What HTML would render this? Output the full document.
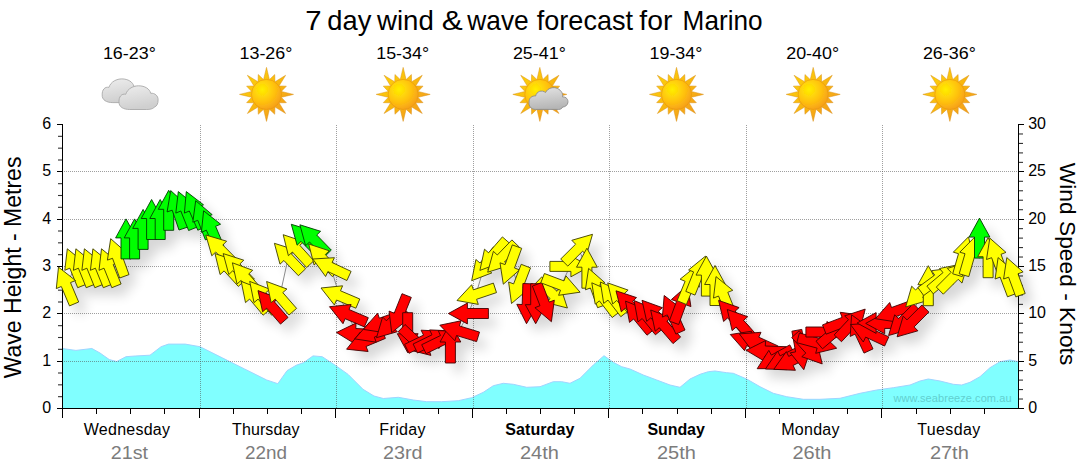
<!DOCTYPE html><html><head><meta charset="utf-8"><title>7 day wind &amp; wave forecast for Marino</title>
<style>html,body{margin:0;padding:0;background:#fff;}svg{display:block}text{font-family:"Liberation Sans",sans-serif;}</style></head><body>
<svg width="1080" height="475" viewBox="0 0 1080 475">
<defs>
<filter id="sh" x="-5%" y="-30%" width="110%" height="170%"><feGaussianBlur in="SourceAlpha" stdDeviation="6"/><feOffset dx="8" dy="9" result="b"/><feComponentTransfer><feFuncA type="linear" slope="0.16"/></feComponentTransfer></filter>
<radialGradient id="sunG" cx="0.36" cy="0.34" r="0.75"><stop offset="0" stop-color="#ffee00"/><stop offset="0.55" stop-color="#ffc20e"/><stop offset="1" stop-color="#f59a1a"/></radialGradient>
<linearGradient id="rayG" x1="0" y1="0" x2="1" y2="1"><stop offset="0" stop-color="#ffdc00"/><stop offset="1" stop-color="#f2921c"/></linearGradient>
<linearGradient id="clG" x1="0" y1="0" x2="0.3" y2="1"><stop offset="0" stop-color="#eeeeee"/><stop offset="1" stop-color="#cfcfcf"/></linearGradient>
<linearGradient id="clD" x1="0" y1="0" x2="0.2" y2="1"><stop offset="0" stop-color="#e4e4e4"/><stop offset="1" stop-color="#b6b6b6"/></linearGradient>
<filter id="soft" x="-20%" y="-20%" width="140%" height="140%"><feGaussianBlur stdDeviation="0.35"/></filter>
</defs>
<rect width="1080" height="475" fill="#fff"/>
<text x="305.3" y="29.7" font-size="27.6" textLength="16.3" lengthAdjust="spacingAndGlyphs" fill="#000">7</text>
<text x="327.3" y="29.7" font-size="27.6" textLength="44.0" lengthAdjust="spacingAndGlyphs" fill="#000">day</text>
<text x="377.0" y="29.7" font-size="27.6" textLength="56.8" lengthAdjust="spacingAndGlyphs" fill="#000">wind</text>
<text x="441.8" y="29.7" font-size="27.6" textLength="21.0" lengthAdjust="spacingAndGlyphs" fill="#000">&amp;</text>
<text x="467.3" y="29.7" font-size="27.6" textLength="61.4" lengthAdjust="spacingAndGlyphs" fill="#000">wave</text>
<text x="536.8" y="29.7" font-size="27.6" textLength="96.2" lengthAdjust="spacingAndGlyphs" fill="#000">forecast</text>
<text x="639.3" y="29.7" font-size="27.6" textLength="33.0" lengthAdjust="spacingAndGlyphs" fill="#000">for</text>
<text x="682.6" y="29.7" font-size="27.6" textLength="80.0" lengthAdjust="spacingAndGlyphs" fill="#000">Marino</text>
<text x="102.9" y="59" font-size="16.3" textLength="52.9" lengthAdjust="spacingAndGlyphs" fill="#000">16-23°</text>
<text x="239.5" y="59" font-size="16.3" textLength="52.9" lengthAdjust="spacingAndGlyphs" fill="#000">13-26°</text>
<text x="376.2" y="59" font-size="16.3" textLength="52.9" lengthAdjust="spacingAndGlyphs" fill="#000">15-34°</text>
<text x="512.9" y="59" font-size="16.3" textLength="52.9" lengthAdjust="spacingAndGlyphs" fill="#000">25-41°</text>
<text x="649.5" y="59" font-size="16.3" textLength="52.9" lengthAdjust="spacingAndGlyphs" fill="#000">19-34°</text>
<text x="786.2" y="59" font-size="16.3" textLength="52.9" lengthAdjust="spacingAndGlyphs" fill="#000">20-40°</text>
<text x="922.9" y="59" font-size="16.3" textLength="52.9" lengthAdjust="spacingAndGlyphs" fill="#000">26-36°</text>
<g transform="translate(101.9,78.9) scale(1,1)" filter="url(#soft)"><path d="M11,23.7 C4.5,23.7 0,21 0.3,16 C0,11 3,7.5 7,8.5 C9,2.5 15,0 20,0 C26,0 31,3 32,7.5 C36,7 39.5,10 39.4,14 C39.5,18 38,20.5 35.5,21.5 C34,23.2 31,23.7 28,23.7 Z" fill="url(#clG)" stroke="#a9a9a9" stroke-width="0.9"/></g>
<g transform="translate(118.7,85.8) scale(1,1)" filter="url(#soft)"><path d="M11,23.7 C4.5,23.7 0,21 0.3,16 C0,11 3,7.5 7,8.5 C9,2.5 15,0 20,0 C26,0 31,3 32,7.5 C36,7 39.5,10 39.4,14 C39.5,18 38,20.5 35.5,21.5 C34,23.2 31,23.7 28,23.7 Z" fill="url(#clG)" stroke="#a9a9a9" stroke-width="0.9"/></g>
<g filter="url(#soft)"><path d="M263.61,79.38 L266.50,67.40 L269.39,79.38 L269.58,79.41 L274.73,74.54 L274.92,81.62 L275.08,81.73 L285.59,75.31 L279.17,85.82 L279.28,85.98 L286.36,86.17 L281.49,91.32 L281.52,91.51 L293.50,94.40 L281.52,97.29 L281.49,97.48 L286.36,102.63 L279.28,102.82 L279.17,102.98 L285.59,113.49 L275.08,107.07 L274.92,107.18 L274.73,114.26 L269.58,109.39 L269.39,109.42 L266.50,121.40 L263.61,109.42 L263.42,109.39 L258.27,114.26 L258.08,107.18 L257.92,107.07 L247.41,113.49 L253.83,102.98 L253.72,102.82 L246.64,102.63 L251.51,97.48 L251.48,97.29 L239.50,94.40 L251.48,91.51 L251.51,91.32 L246.64,86.17 L253.72,85.98 L253.83,85.82 L247.41,75.31 L257.92,81.73 L258.08,81.62 L258.27,74.54 L263.42,79.41Z" fill="url(#rayG)" stroke="#d9901a" stroke-width="0.5" stroke-linejoin="miter"/><circle cx="266.5" cy="94.4" r="15" fill="url(#sunG)" stroke="#e8960f" stroke-width="0.6"/></g>
<g filter="url(#soft)"><path d="M400.28,79.38 L403.17,67.40 L406.06,79.38 L406.25,79.41 L411.40,74.54 L411.59,81.62 L411.75,81.73 L422.26,75.31 L415.84,85.82 L415.95,85.98 L423.03,86.17 L418.16,91.32 L418.19,91.51 L430.17,94.40 L418.19,97.29 L418.16,97.48 L423.03,102.63 L415.95,102.82 L415.84,102.98 L422.26,113.49 L411.75,107.07 L411.59,107.18 L411.40,114.26 L406.25,109.39 L406.06,109.42 L403.17,121.40 L400.28,109.42 L400.09,109.39 L394.94,114.26 L394.75,107.18 L394.59,107.07 L384.08,113.49 L390.50,102.98 L390.39,102.82 L383.31,102.63 L388.18,97.48 L388.15,97.29 L376.17,94.40 L388.15,91.51 L388.18,91.32 L383.31,86.17 L390.39,85.98 L390.50,85.82 L384.08,75.31 L394.59,81.73 L394.75,81.62 L394.94,74.54 L400.09,79.41Z" fill="url(#rayG)" stroke="#d9901a" stroke-width="0.5" stroke-linejoin="miter"/><circle cx="403.16999999999996" cy="94.4" r="15" fill="url(#sunG)" stroke="#e8960f" stroke-width="0.6"/></g>
<g filter="url(#soft)"><path d="M536.95,79.38 L539.84,67.40 L542.73,79.38 L542.92,79.41 L548.07,74.54 L548.26,81.62 L548.42,81.73 L558.93,75.31 L552.51,85.82 L552.62,85.98 L559.70,86.17 L554.83,91.32 L554.86,91.51 L566.84,94.40 L554.86,97.29 L554.83,97.48 L559.70,102.63 L552.62,102.82 L552.51,102.98 L558.93,113.49 L548.42,107.07 L548.26,107.18 L548.07,114.26 L542.92,109.39 L542.73,109.42 L539.84,121.40 L536.95,109.42 L536.76,109.39 L531.61,114.26 L531.42,107.18 L531.26,107.07 L520.75,113.49 L527.17,102.98 L527.06,102.82 L519.98,102.63 L524.85,97.48 L524.82,97.29 L512.84,94.40 L524.82,91.51 L524.85,91.32 L519.98,86.17 L527.06,85.98 L527.17,85.82 L520.75,75.31 L531.26,81.73 L531.42,81.62 L531.61,74.54 L536.76,79.41Z" fill="url(#rayG)" stroke="#d9901a" stroke-width="0.5" stroke-linejoin="miter"/><circle cx="539.8399999999999" cy="94.4" r="15" fill="url(#sunG)" stroke="#e8960f" stroke-width="0.6"/></g>
<g transform="translate(528.6,86.5) scale(1,1)" filter="url(#soft)"><path d="M7,22.9 C2,22.9 0,19 0.5,16 C0,11.5 3.5,9 7,9.5 C8,5 13,3 17,6 C19,1.5 25,0 29,2 C33,4 34.5,7.5 34,10.5 C37.5,10 40,13 39.2,16.5 C38.5,19 36.5,20.5 34,20.5 C33.5,22 32,22.9 30,22.9 Z" fill="url(#clD)" stroke="#8c8c8c" stroke-width="0.9"/></g>
<g filter="url(#soft)"><path d="M673.62,79.38 L676.51,67.40 L679.40,79.38 L679.59,79.41 L684.74,74.54 L684.93,81.62 L685.09,81.73 L695.60,75.31 L689.18,85.82 L689.29,85.98 L696.37,86.17 L691.50,91.32 L691.53,91.51 L703.51,94.40 L691.53,97.29 L691.50,97.48 L696.37,102.63 L689.29,102.82 L689.18,102.98 L695.60,113.49 L685.09,107.07 L684.93,107.18 L684.74,114.26 L679.59,109.39 L679.40,109.42 L676.51,121.40 L673.62,109.42 L673.43,109.39 L668.28,114.26 L668.09,107.18 L667.93,107.07 L657.42,113.49 L663.84,102.98 L663.73,102.82 L656.65,102.63 L661.52,97.48 L661.49,97.29 L649.51,94.40 L661.49,91.51 L661.52,91.32 L656.65,86.17 L663.73,85.98 L663.84,85.82 L657.42,75.31 L667.93,81.73 L668.09,81.62 L668.28,74.54 L673.43,79.41Z" fill="url(#rayG)" stroke="#d9901a" stroke-width="0.5" stroke-linejoin="miter"/><circle cx="676.51" cy="94.4" r="15" fill="url(#sunG)" stroke="#e8960f" stroke-width="0.6"/></g>
<g filter="url(#soft)"><path d="M810.29,79.38 L813.18,67.40 L816.07,79.38 L816.26,79.41 L821.41,74.54 L821.60,81.62 L821.76,81.73 L832.27,75.31 L825.85,85.82 L825.96,85.98 L833.04,86.17 L828.17,91.32 L828.20,91.51 L840.18,94.40 L828.20,97.29 L828.17,97.48 L833.04,102.63 L825.96,102.82 L825.85,102.98 L832.27,113.49 L821.76,107.07 L821.60,107.18 L821.41,114.26 L816.26,109.39 L816.07,109.42 L813.18,121.40 L810.29,109.42 L810.10,109.39 L804.95,114.26 L804.76,107.18 L804.60,107.07 L794.09,113.49 L800.51,102.98 L800.40,102.82 L793.32,102.63 L798.19,97.48 L798.16,97.29 L786.18,94.40 L798.16,91.51 L798.19,91.32 L793.32,86.17 L800.40,85.98 L800.51,85.82 L794.09,75.31 L804.60,81.73 L804.76,81.62 L804.95,74.54 L810.10,79.41Z" fill="url(#rayG)" stroke="#d9901a" stroke-width="0.5" stroke-linejoin="miter"/><circle cx="813.18" cy="94.4" r="15" fill="url(#sunG)" stroke="#e8960f" stroke-width="0.6"/></g>
<g filter="url(#soft)"><path d="M946.96,79.38 L949.85,67.40 L952.74,79.38 L952.93,79.41 L958.08,74.54 L958.27,81.62 L958.43,81.73 L968.94,75.31 L962.52,85.82 L962.63,85.98 L969.71,86.17 L964.84,91.32 L964.87,91.51 L976.85,94.40 L964.87,97.29 L964.84,97.48 L969.71,102.63 L962.63,102.82 L962.52,102.98 L968.94,113.49 L958.43,107.07 L958.27,107.18 L958.08,114.26 L952.93,109.39 L952.74,109.42 L949.85,121.40 L946.96,109.42 L946.77,109.39 L941.62,114.26 L941.43,107.18 L941.27,107.07 L930.76,113.49 L937.18,102.98 L937.07,102.82 L929.99,102.63 L934.86,97.48 L934.83,97.29 L922.85,94.40 L934.83,91.51 L934.86,91.32 L929.99,86.17 L937.07,85.98 L937.18,85.82 L930.76,75.31 L941.27,81.73 L941.43,81.62 L941.62,74.54 L946.77,79.41Z" fill="url(#rayG)" stroke="#d9901a" stroke-width="0.5" stroke-linejoin="miter"/><circle cx="949.8499999999999" cy="94.4" r="15" fill="url(#sunG)" stroke="#e8960f" stroke-width="0.6"/></g>
<path d="M62.2,348.5 L75.9,350.4 L91.9,348.5 L100,353 L109.3,359.6 L116.7,361.5 L126,356.7 L135.2,356 L150,355.2 L161.1,346.7 L168.5,344.1 L185.2,344.1 L200,346.7 L222.2,357.8 L244.4,368.9 L266.7,380 L277.8,383.7 L287,370.7 L296.3,365.2 L303.7,362.6 L313,355.9 L322.2,356.7 L335.2,365.2 L348.1,374.4 L363,389.3 L374,396 L383.3,398.5 L398.3,397.3 L413.3,400 L426.7,401.7 L441.7,401.7 L458.3,400.7 L471.7,397.7 L483.3,392.3 L493.3,385.7 L503.3,383.3 L513.3,384.3 L526.7,387.3 L540,386.7 L553.3,381.7 L561.7,381.7 L570,383.3 L580,378.3 L593.3,365 L604,355.7 L613.3,362.3 L621.7,366.7 L630,369 L643.3,375 L656.7,380 L670,385 L680,387.3 L690,379 L700,374.3 L708.3,371.7 L715,371 L726.7,372.7 L733.3,373.3 L746.7,379 L760,386.7 L773.3,393.3 L786.7,396.7 L803.3,399.3 L820,399.3 L840,398.3 L860,393.3 L876.7,390 L893.3,387.7 L910,385 L920,381 L928.3,379 L940,381 L953.3,384.3 L961.7,385 L970,382.3 L980,376.7 L990,367.7 L1000,361.7 L1010,360 L1018.5,361.7 L1018.5,408.5 L62.5,408.5 Z" fill="#80ffff"/>
<path d="M62.2,348.5 L75.9,350.4 L91.9,348.5 L100,353 L109.3,359.6 L116.7,361.5 L126,356.7 L135.2,356 L150,355.2 L161.1,346.7 L168.5,344.1 L185.2,344.1 L200,346.7 L222.2,357.8 L244.4,368.9 L266.7,380 L277.8,383.7 L287,370.7 L296.3,365.2 L303.7,362.6 L313,355.9 L322.2,356.7 L335.2,365.2 L348.1,374.4 L363,389.3 L374,396 L383.3,398.5 L398.3,397.3 L413.3,400 L426.7,401.7 L441.7,401.7 L458.3,400.7 L471.7,397.7 L483.3,392.3 L493.3,385.7 L503.3,383.3 L513.3,384.3 L526.7,387.3 L540,386.7 L553.3,381.7 L561.7,381.7 L570,383.3 L580,378.3 L593.3,365 L604,355.7 L613.3,362.3 L621.7,366.7 L630,369 L643.3,375 L656.7,380 L670,385 L680,387.3 L690,379 L700,374.3 L708.3,371.7 L715,371 L726.7,372.7 L733.3,373.3 L746.7,379 L760,386.7 L773.3,393.3 L786.7,396.7 L803.3,399.3 L820,399.3 L840,398.3 L860,393.3 L876.7,390 L893.3,387.7 L910,385 L920,381 L928.3,379 L940,381 L953.3,384.3 L961.7,385 L970,382.3 L980,376.7 L990,367.7 L1000,361.7 L1010,360 L1018.5,361.7" fill="none" stroke="#9fd4ff" stroke-width="1"/>
<text x="893.5" y="401.5" font-size="11" textLength="118" lengthAdjust="spacing" fill="#62d0d0">www.seabreeze.com.au</text>
<g stroke="#505050" stroke-opacity="0.55" stroke-width="1" stroke-dasharray="1,1" shape-rendering="crispEdges"><line x1="63.5" y1="361.5" x2="1018.5" y2="361.5"/><line x1="63.5" y1="313.5" x2="1018.5" y2="313.5"/><line x1="63.5" y1="266.5" x2="1018.5" y2="266.5"/><line x1="63.5" y1="219.5" x2="1018.5" y2="219.5"/><line x1="63.5" y1="171.5" x2="1018.5" y2="171.5"/><line x1="200.5" y1="124.5" x2="200.5" y2="408.5"/><line x1="336.5" y1="124.5" x2="336.5" y2="408.5"/><line x1="473.5" y1="124.5" x2="473.5" y2="408.5"/><line x1="609.5" y1="124.5" x2="609.5" y2="408.5"/><line x1="746.5" y1="124.5" x2="746.5" y2="408.5"/><line x1="882.5" y1="124.5" x2="882.5" y2="408.5"/></g>
<g stroke="#000" stroke-width="1" shape-rendering="crispEdges"><line x1="62.5" y1="124" x2="62.5" y2="418"/><line x1="62" y1="408.5" x2="1019" y2="408.5"/><line x1="1018.5" y1="124" x2="1018.5" y2="409"/><line x1="57" y1="408.5" x2="62" y2="408.5"/><line x1="57" y1="361.5" x2="62" y2="361.5"/><line x1="57" y1="313.5" x2="62" y2="313.5"/><line x1="57" y1="266.5" x2="62" y2="266.5"/><line x1="57" y1="219.5" x2="62" y2="219.5"/><line x1="57" y1="171.5" x2="62" y2="171.5"/><line x1="57" y1="124.5" x2="62" y2="124.5"/><line x1="1019" y1="408.5" x2="1024" y2="408.5"/><line x1="1019" y1="361.5" x2="1024" y2="361.5"/><line x1="1019" y1="313.5" x2="1024" y2="313.5"/><line x1="1019" y1="266.5" x2="1024" y2="266.5"/><line x1="1019" y1="219.5" x2="1024" y2="219.5"/><line x1="1019" y1="171.5" x2="1024" y2="171.5"/><line x1="1019" y1="124.5" x2="1024" y2="124.5"/><line x1="96.5" y1="409" x2="96.5" y2="413.5"/><line x1="130.5" y1="409" x2="130.5" y2="413.5"/><line x1="164.5" y1="409" x2="164.5" y2="413.5"/><line x1="199.5" y1="409" x2="199.5" y2="418"/><line x1="233.5" y1="409" x2="233.5" y2="413.5"/><line x1="267.5" y1="409" x2="267.5" y2="413.5"/><line x1="301.5" y1="409" x2="301.5" y2="413.5"/><line x1="335.5" y1="409" x2="335.5" y2="418"/><line x1="369.5" y1="409" x2="369.5" y2="413.5"/><line x1="403.5" y1="409" x2="403.5" y2="413.5"/><line x1="438.5" y1="409" x2="438.5" y2="413.5"/><line x1="472.5" y1="409" x2="472.5" y2="418"/><line x1="506.5" y1="409" x2="506.5" y2="413.5"/><line x1="540.5" y1="409" x2="540.5" y2="413.5"/><line x1="574.5" y1="409" x2="574.5" y2="413.5"/><line x1="608.5" y1="409" x2="608.5" y2="418"/><line x1="642.5" y1="409" x2="642.5" y2="413.5"/><line x1="677.5" y1="409" x2="677.5" y2="413.5"/><line x1="711.5" y1="409" x2="711.5" y2="413.5"/><line x1="745.5" y1="409" x2="745.5" y2="418"/><line x1="779.5" y1="409" x2="779.5" y2="413.5"/><line x1="813.5" y1="409" x2="813.5" y2="413.5"/><line x1="847.5" y1="409" x2="847.5" y2="413.5"/><line x1="881.5" y1="409" x2="881.5" y2="418"/><line x1="916.5" y1="409" x2="916.5" y2="413.5"/><line x1="950.5" y1="409" x2="950.5" y2="413.5"/><line x1="984.5" y1="409" x2="984.5" y2="413.5"/></g>
<g stroke="#000" stroke-width="1.1" stroke-opacity="0.8"><line x1="58" y1="396.67" x2="62" y2="396.67"/><line x1="58" y1="384.83" x2="62" y2="384.83"/><line x1="58" y1="373.00" x2="62" y2="373.00"/><line x1="58" y1="349.33" x2="62" y2="349.33"/><line x1="58" y1="337.50" x2="62" y2="337.50"/><line x1="58" y1="325.67" x2="62" y2="325.67"/><line x1="58" y1="302.00" x2="62" y2="302.00"/><line x1="58" y1="290.17" x2="62" y2="290.17"/><line x1="58" y1="278.33" x2="62" y2="278.33"/><line x1="58" y1="254.67" x2="62" y2="254.67"/><line x1="58" y1="242.83" x2="62" y2="242.83"/><line x1="58" y1="231.00" x2="62" y2="231.00"/><line x1="58" y1="207.33" x2="62" y2="207.33"/><line x1="58" y1="195.50" x2="62" y2="195.50"/><line x1="58" y1="183.67" x2="62" y2="183.67"/><line x1="58" y1="160.00" x2="62" y2="160.00"/><line x1="58" y1="148.17" x2="62" y2="148.17"/><line x1="58" y1="136.33" x2="62" y2="136.33"/><line x1="1019" y1="399.03" x2="1023" y2="399.03"/><line x1="1019" y1="389.57" x2="1023" y2="389.57"/><line x1="1019" y1="380.10" x2="1023" y2="380.10"/><line x1="1019" y1="370.63" x2="1023" y2="370.63"/><line x1="1019" y1="351.70" x2="1023" y2="351.70"/><line x1="1019" y1="342.23" x2="1023" y2="342.23"/><line x1="1019" y1="332.77" x2="1023" y2="332.77"/><line x1="1019" y1="323.30" x2="1023" y2="323.30"/><line x1="1019" y1="304.37" x2="1023" y2="304.37"/><line x1="1019" y1="294.90" x2="1023" y2="294.90"/><line x1="1019" y1="285.43" x2="1023" y2="285.43"/><line x1="1019" y1="275.97" x2="1023" y2="275.97"/><line x1="1019" y1="257.03" x2="1023" y2="257.03"/><line x1="1019" y1="247.57" x2="1023" y2="247.57"/><line x1="1019" y1="238.10" x2="1023" y2="238.10"/><line x1="1019" y1="228.63" x2="1023" y2="228.63"/><line x1="1019" y1="209.70" x2="1023" y2="209.70"/><line x1="1019" y1="200.23" x2="1023" y2="200.23"/><line x1="1019" y1="190.77" x2="1023" y2="190.77"/><line x1="1019" y1="181.30" x2="1023" y2="181.30"/><line x1="1019" y1="162.37" x2="1023" y2="162.37"/><line x1="1019" y1="152.90" x2="1023" y2="152.90"/><line x1="1019" y1="143.43" x2="1023" y2="143.43"/><line x1="1019" y1="133.97" x2="1023" y2="133.97"/></g>
<g filter="url(#sh)" fill="#000"><polygon points="67.3,248.8 84.1,262.5 79.1,264.5 87.0,284.0 77.7,287.7 69.8,268.2 64.8,270.3"/><polygon points="75.9,248.8 92.6,262.5 87.6,264.5 95.5,284.0 86.2,287.7 78.4,268.2 73.4,270.3"/><polygon points="84.4,248.8 101.2,262.5 96.2,264.5 104.0,284.0 94.8,287.7 86.9,268.2 81.9,270.3"/><polygon points="92.9,248.8 109.7,262.5 104.7,264.5 112.6,284.0 103.3,287.7 95.4,268.2 90.4,270.3"/><polygon points="101.5,248.8 118.2,262.5 113.2,264.5 121.1,284.0 111.8,287.7 104.0,268.2 99.0,270.3"/><polygon points="58.5,267.1 75.5,280.5 70.5,282.6 78.7,302.0 69.5,305.9 61.3,286.5 56.3,288.6"/><polygon points="110.7,238.7 126.9,253.0 121.9,254.9 129.0,274.6 119.7,278.0 112.5,258.3 107.4,260.1"/><polygon points="126.0,218.9 136.4,237.9 131.0,237.9 131.0,258.9 121.0,258.9 121.0,237.9 115.6,237.9"/><polygon points="134.6,218.9 145.0,237.9 139.6,237.9 139.6,258.9 129.6,258.9 129.6,237.9 124.2,237.9"/><polygon points="143.1,209.4 153.5,228.4 148.1,228.4 148.1,249.4 138.1,249.4 138.1,228.4 132.7,228.4"/><polygon points="151.6,199.5 162.0,218.5 156.6,218.5 156.6,239.5 146.6,239.5 146.6,218.5 141.2,218.5"/><polygon points="160.2,199.5 170.6,218.5 165.2,218.5 165.2,239.5 155.2,239.5 155.2,218.5 149.8,218.5"/><polygon points="168.7,190.3 179.1,209.3 173.7,209.3 173.7,230.3 163.7,230.3 163.7,209.3 158.3,209.3"/><polygon points="170.7,190.6 186.8,205.2 181.7,206.9 188.5,226.8 179.0,230.0 172.2,210.2 167.1,211.9"/><polygon points="178.3,191.6 195.1,205.3 190.1,207.3 197.9,226.8 188.6,230.5 180.8,211.0 175.8,213.1"/><polygon points="186.3,191.6 203.5,204.8 198.5,207.0 206.9,226.2 197.8,230.2 189.3,211.0 184.4,213.1"/><polygon points="195.7,200.7 212.2,214.7 207.2,216.7 214.7,236.3 205.4,239.9 197.8,220.3 192.8,222.2"/><polygon points="203.6,210.8 220.6,224.2 215.6,226.3 223.8,245.7 214.6,249.6 206.4,230.2 201.4,232.3"/><polygon points="205.8,235.0 226.6,241.2 222.8,245.0 237.6,259.9 230.5,266.9 215.7,252.0 211.8,255.8"/><polygon points="215.0,253.6 235.5,260.5 231.5,264.2 245.7,279.7 238.3,286.4 224.1,270.9 220.1,274.6"/><polygon points="223.2,253.6 243.8,260.2 239.9,263.9 254.4,279.1 247.2,286.0 232.7,270.8 228.8,274.5"/><polygon points="232.4,262.8 252.7,270.3 248.7,273.9 262.4,289.7 254.9,296.3 241.1,280.4 237.0,284.0"/><polygon points="241.2,281.4 261.4,289.2 257.3,292.7 270.8,308.8 263.1,315.2 249.6,299.1 245.5,302.6"/><polygon points="249.7,281.4 269.9,289.2 265.8,292.7 279.3,308.8 271.6,315.2 258.1,299.1 254.0,302.6"/><polygon points="258.0,290.6 278.3,298.1 274.3,301.7 288.0,317.5 280.5,324.1 266.7,308.2 262.6,311.8"/><polygon points="266.6,281.5 286.9,289.0 282.8,292.6 296.6,308.4 289.0,315.0 275.2,299.1 271.2,302.7"/><polygon points="274.4,243.3 295.1,249.9 291.1,253.6 305.6,268.8 298.4,275.7 283.9,260.5 280.0,264.2"/><polygon points="283.2,234.7 303.7,241.6 299.8,245.3 313.9,260.8 306.6,267.5 292.4,252.0 288.4,255.7"/><polygon points="291.3,224.3 312.0,230.6 308.2,234.4 322.8,249.4 315.7,256.4 301.0,241.4 297.1,245.2"/><polygon points="299.9,224.8 320.6,231.3 316.7,235.0 331.3,250.1 324.1,257.1 309.5,242.0 305.6,245.7"/><polygon points="308.7,244.0 329.3,250.8 325.3,254.5 339.6,269.8 332.3,276.6 318.0,261.3 314.1,265.0"/><polygon points="312.8,259.0 334.4,257.7 332.1,262.5 351.1,271.4 346.9,280.5 327.9,271.6 325.6,276.5"/><polygon points="321.0,288.0 342.6,285.8 340.5,290.8 359.8,299.0 355.9,308.2 336.5,300.0 334.4,305.0"/><polygon points="329.5,306.7 351.1,304.5 349.0,309.5 368.3,317.7 364.4,326.9 345.1,318.7 343.0,323.7"/><polygon points="336.5,332.5 356.0,323.1 355.8,328.5 376.7,329.6 376.2,339.5 355.2,338.4 354.9,343.8"/><polygon points="346.6,349.2 360.1,332.3 362.2,337.3 381.6,329.2 385.4,338.4 366.0,346.5 368.1,351.5"/><polygon points="354.8,338.9 369.1,322.7 370.9,327.7 390.6,320.6 394.1,330.0 374.3,337.1 376.2,342.2"/><polygon points="363.3,329.4 377.6,313.2 379.4,318.2 399.2,311.1 402.6,320.5 382.9,327.6 384.7,332.7"/><polygon points="376.5,337.7 382.6,317.0 386.4,320.8 401.2,305.9 408.3,313.0 393.5,327.8 397.3,331.7"/><polygon points="391.7,332.6 389.1,311.1 394.2,313.2 402.0,293.7 411.3,297.4 403.4,316.9 408.4,318.9"/><polygon points="407.7,352.7 397.3,333.7 402.7,333.7 402.7,312.7 412.7,312.7 412.7,333.7 418.1,333.7"/><polygon points="430.9,355.4 409.9,350.1 413.6,346.1 398.2,331.8 405.0,324.5 420.4,338.8 424.1,334.9"/><polygon points="442.7,331.2 430.2,348.9 427.9,344.1 409.0,353.3 404.6,344.3 423.5,335.1 421.1,330.2"/><polygon points="451.3,330.9 438.8,348.6 436.4,343.8 417.5,353.0 413.1,344.0 432.0,334.8 429.6,329.9"/><polygon points="459.8,331.6 447.3,349.3 444.9,344.5 426.1,353.7 421.7,344.7 440.5,335.5 438.2,330.6"/><polygon points="450.4,323.0 460.8,342.0 455.4,342.0 455.4,363.0 445.4,363.0 445.4,342.0 440.0,342.0"/><polygon points="439.8,325.2 461.0,320.8 459.4,325.9 479.5,332.1 476.6,341.6 456.5,335.5 454.9,340.7"/><polygon points="448.4,313.5 467.4,303.1 467.4,308.5 488.4,308.5 488.4,318.5 467.4,318.5 467.4,323.9"/><polygon points="457.0,300.5 471.7,284.7 473.4,289.8 493.4,283.1 496.5,292.6 476.6,299.3 478.3,304.4"/><polygon points="471.7,280.7 475.9,259.5 480.0,263.0 493.5,246.9 501.2,253.3 487.7,269.4 491.8,272.9"/><polygon points="479.9,270.4 484.5,249.2 488.6,252.8 502.4,236.9 509.9,243.5 496.2,259.3 500.2,262.9"/><polygon points="487.7,272.2 493.4,251.3 497.3,255.0 511.9,239.9 519.1,246.9 504.5,262.0 508.4,265.7"/><polygon points="503.3,284.2 500.0,262.8 505.1,264.6 512.3,244.9 521.7,248.3 514.5,268.0 519.6,269.9"/><polygon points="511.5,303.5 508.6,282.0 513.6,283.9 521.2,264.3 530.5,267.9 523.0,287.5 528.0,289.5"/><polygon points="567.4,308.0 546.4,302.6 550.1,298.6 534.8,284.2 541.7,276.9 557.0,291.3 560.7,287.4"/><polygon points="526.5,323.7 516.8,304.3 522.2,304.5 522.9,283.5 532.9,283.9 532.2,304.9 537.5,305.1"/><polygon points="535.7,323.7 525.3,304.7 530.7,304.7 530.7,283.7 540.7,283.7 540.7,304.7 546.1,304.7"/><polygon points="551.4,321.7 534.9,307.7 540.0,305.7 532.4,286.1 541.8,282.5 549.3,302.1 554.3,300.2"/><polygon points="580.1,292.2 558.6,295.3 560.5,290.2 540.8,282.8 544.4,273.5 564.0,280.9 565.9,275.8"/><polygon points="589.9,266.4 570.9,276.8 570.9,271.4 549.9,271.4 549.9,261.4 570.9,261.4 570.9,256.0"/><polygon points="592.5,234.3 586.5,255.0 582.6,251.2 567.8,266.1 560.7,259.0 575.6,244.2 571.8,240.3"/><polygon points="586.9,248.2 597.3,267.2 591.9,267.2 591.9,288.2 581.9,288.2 581.9,267.2 576.5,267.2"/><polygon points="588.6,268.4 604.9,282.7 599.8,284.6 607.0,304.3 597.6,307.7 590.4,288.0 585.4,289.8"/><polygon points="591.8,282.8 611.6,291.5 607.4,294.8 620.2,311.4 612.2,317.5 599.4,300.9 595.2,304.2"/><polygon points="600.3,282.0 620.2,290.7 615.9,294.0 628.7,310.6 620.8,316.7 608.0,300.1 603.7,303.4"/><polygon points="607.7,282.9 628.1,290.1 624.1,293.7 638.2,309.3 630.7,316.0 616.7,300.4 612.7,304.0"/><polygon points="616.0,290.8 636.5,297.6 632.6,301.3 646.9,316.6 639.6,323.4 625.3,308.1 621.3,311.8"/><polygon points="625.5,301.1 645.5,309.2 641.4,312.7 654.7,328.9 647.0,335.2 633.6,319.0 629.5,322.4"/><polygon points="634.1,300.6 654.1,308.8 649.9,312.2 663.2,328.5 655.4,334.8 642.2,318.5 638.0,321.9"/><polygon points="642.0,300.3 662.4,307.7 658.3,311.2 672.2,327.0 664.7,333.6 650.8,317.8 646.7,321.4"/><polygon points="650.7,310.0 671.0,317.7 666.9,321.2 680.6,337.1 673.0,343.6 659.3,327.7 655.2,331.2"/><polygon points="664.2,295.5 681.4,308.7 676.4,310.9 685.0,330.0 675.9,334.1 667.3,314.9 662.4,317.1"/><polygon points="687.7,285.2 690.9,306.6 685.9,304.8 678.7,324.5 669.3,321.1 676.5,301.4 671.4,299.5"/><polygon points="696.9,265.6 699.4,287.1 694.4,285.1 686.4,304.5 677.1,300.7 685.1,281.3 680.1,279.2"/><polygon points="705.4,256.2 707.9,277.7 702.9,275.6 695.0,295.1 685.8,291.4 693.6,271.9 688.6,269.9"/><polygon points="706.4,256.1 716.8,275.1 711.4,275.1 711.4,296.1 701.4,296.1 701.4,275.1 696.0,275.1"/><polygon points="715.0,265.5 725.4,284.5 720.0,284.5 720.0,305.5 710.0,305.5 710.0,284.5 704.6,284.5"/><polygon points="716.0,276.6 732.8,290.3 727.8,292.3 735.6,311.8 726.4,315.5 718.5,296.0 713.5,298.1"/><polygon points="718.6,300.4 739.1,307.6 735.1,311.2 749.1,326.8 741.7,333.5 727.6,317.9 723.6,321.5"/><polygon points="727.3,309.5 747.7,316.7 743.6,320.3 757.6,336.0 750.1,342.7 736.2,327.0 732.1,330.6"/><polygon points="730.3,334.5 751.7,331.2 749.9,336.3 769.6,343.4 766.2,352.8 746.5,345.7 744.6,350.7"/><polygon points="739.4,333.9 761.0,332.3 758.8,337.2 777.9,345.9 773.8,355.0 754.7,346.3 752.4,351.2"/><polygon points="746.2,350.3 765.5,340.6 765.3,346.0 786.3,346.7 786.0,356.7 765.0,356.0 764.8,361.4"/><polygon points="757.2,368.7 768.8,350.4 771.4,355.1 789.8,344.9 794.6,353.7 776.3,363.9 778.9,368.6"/><polygon points="765.4,369.0 777.6,351.1 780.1,355.9 798.8,346.4 803.3,355.3 784.6,364.8 787.1,369.6"/><polygon points="773.8,369.3 786.3,351.6 788.7,356.4 807.6,347.2 811.9,356.2 793.1,365.4 795.4,370.3"/><polygon points="803.8,369.7 790.2,352.8 795.6,351.9 791.9,331.2 801.8,329.4 805.4,350.1 810.7,349.2"/><polygon points="822.2,363.9 801.8,356.7 805.8,353.1 791.7,337.5 799.2,330.8 813.2,346.4 817.2,342.8"/><polygon points="836.7,348.2 815.7,353.3 817.1,348.1 796.8,342.7 799.4,333.0 819.6,338.4 821.0,333.2"/><polygon points="845.9,332.0 826.9,342.4 826.9,337.0 805.9,337.0 805.9,327.0 826.9,327.0 826.9,321.6"/><polygon points="849.7,319.0 842.0,339.3 838.5,335.2 822.5,348.8 816.0,341.2 832.0,327.5 828.5,323.4"/><polygon points="861.7,315.2 847.6,331.8 845.7,326.7 826.1,334.2 822.5,324.9 842.1,317.4 840.2,312.3"/><polygon points="865.2,309.1 859.8,330.1 855.9,326.4 841.5,341.7 834.2,334.9 848.5,319.6 844.6,315.9"/><polygon points="851.6,314.8 869.1,327.6 864.2,329.9 873.0,348.9 864.0,353.1 855.1,334.1 850.2,336.4"/><polygon points="850.5,324.5 872.1,323.2 869.8,328.0 888.8,336.9 884.6,346.0 865.6,337.1 863.3,342.0"/><polygon points="857.1,323.0 876.1,312.6 876.1,318.0 897.1,318.0 897.1,328.0 876.1,328.0 876.1,333.4"/><polygon points="865.7,323.4 884.7,313.0 884.7,318.4 905.7,318.4 905.7,328.4 884.7,328.4 884.7,333.8"/><polygon points="875.4,318.7 889.7,302.5 891.5,307.5 911.3,300.4 914.7,309.8 895.0,316.9 896.8,322.0"/><polygon points="888.6,335.5 894.7,314.8 898.5,318.6 913.3,303.7 920.4,310.8 905.6,325.6 909.4,329.5"/><polygon points="897.1,336.8 903.2,316.1 907.0,319.9 921.9,305.0 928.9,312.1 914.1,326.9 917.9,330.8"/><polygon points="905.7,306.9 911.7,286.2 915.6,290.0 930.4,275.1 937.5,282.2 922.6,297.0 926.4,300.9"/><polygon points="928.3,265.7 938.7,284.7 933.3,284.7 933.3,305.7 923.3,305.7 923.3,284.7 917.9,284.7"/><polygon points="953.0,267.9 943.8,287.5 940.6,283.1 923.7,295.5 917.8,287.5 934.7,275.1 931.5,270.7"/><polygon points="960.7,264.2 952.9,284.4 949.4,280.3 933.3,293.8 926.9,286.1 943.0,272.6 939.5,268.5"/><polygon points="968.1,262.4 962.0,283.1 958.2,279.3 943.3,294.2 936.3,287.1 951.1,272.3 947.3,268.4"/><polygon points="968.5,236.8 973.3,257.9 968.1,256.4 962.3,276.6 952.7,273.8 958.5,253.7 953.3,252.2"/><polygon points="975.0,236.8 979.8,257.9 974.6,256.4 968.8,276.6 959.2,273.8 965.0,253.7 959.8,252.2"/><polygon points="979.5,218.1 989.9,237.1 984.5,237.1 984.5,258.1 974.5,258.1 974.5,237.1 969.1,237.1"/><polygon points="988.1,237.7 998.5,256.7 993.1,256.7 993.1,277.7 983.1,277.7 983.1,256.7 977.7,256.7"/><polygon points="989.8,238.1 1006.0,252.4 1001.0,254.3 1008.2,274.0 998.8,277.4 991.6,257.7 986.5,259.5"/><polygon points="998.1,257.6 1014.5,271.7 1009.5,273.6 1016.8,293.3 1007.5,296.8 1000.1,277.1 995.1,279.0"/><polygon points="1006.8,257.6 1023.1,271.9 1018.0,273.8 1025.2,293.5 1015.8,296.9 1008.6,277.2 1003.6,279.0"/></g>
<path d="M66.3,285.5 L74.8,267.3 L83.4,267.3 L91.9,267.3 L100.4,267.3 L109.0,267.3 L117.5,257.5 L126.0,238.9 L134.6,238.9 L143.1,229.4 L151.6,219.5 L160.2,219.5 L168.7,210.3 L177.3,209.5 L185.8,210.1 L194.3,209.9 L202.9,219.4 L211.4,229.2 L219.9,249.2 L228.5,268.3 L237.0,268.1 L245.5,277.9 L254.1,296.7 L262.6,296.7 L271.1,305.7 L279.7,296.6 L288.2,257.8 L296.7,249.4 L305.3,238.6 L313.8,239.2 L322.4,258.6 L330.9,267.5 L339.4,295.8 L348.0,314.5 L356.5,333.5 L365.0,341.5 L373.6,332.1 L382.1,322.6 L390.6,323.6 L399.2,314.1 L407.7,332.7 L416.2,341.8 L424.8,340.0 L433.3,339.7 L441.8,340.4 L450.4,343.0 L458.9,331.0 L468.4,313.5 L476.0,294.2 L484.5,265.4 L493.1,255.3 L501.6,257.8 L510.1,265.4 L518.7,284.8 L527.2,303.7 L535.7,303.7 L544.3,303.0 L552.8,294.3 L561.3,285.2 L569.9,266.4 L578.4,248.4 L586.9,268.2 L595.5,287.2 L604.0,298.6 L612.5,297.8 L621.1,297.8 L629.6,305.4 L638.1,316.6 L646.7,316.1 L655.2,315.3 L663.8,325.2 L672.3,313.8 L680.8,304.0 L689.4,284.1 L697.9,274.7 L706.4,276.1 L715.0,285.5 L723.5,295.1 L732.0,315.3 L740.6,324.4 L749.1,341.3 L757.6,342.2 L766.2,351.0 L774.7,359.0 L783.2,359.9 L791.8,360.5 L800.3,350.0 L808.8,349.0 L817.4,343.0 L825.9,332.0 L834.4,332.0 L843.0,322.4 L851.5,323.7 L860.1,332.9 L868.6,333.0 L877.1,323.0 L885.7,323.4 L894.2,311.9 L902.7,321.4 L911.3,322.7 L919.8,292.8 L928.3,285.7 L936.9,279.7 L945.4,277.1 L953.9,276.5 L963.0,256.0 L969.5,256.0 L979.5,238.1 L988.1,257.7 L996.6,256.9 L1005.1,276.3 L1013.7,276.4" fill="none" stroke="#8a8a8a" stroke-width="1"/>
<polygon points="67.3,248.8 84.1,262.5 79.1,264.5 87.0,284.0 77.7,287.7 69.8,268.2 64.8,270.3" fill="#ffff00" stroke="#3c3c00" stroke-width="0.9" stroke-linejoin="miter"/>
<polygon points="75.9,248.8 92.6,262.5 87.6,264.5 95.5,284.0 86.2,287.7 78.4,268.2 73.4,270.3" fill="#ffff00" stroke="#3c3c00" stroke-width="0.9" stroke-linejoin="miter"/>
<polygon points="84.4,248.8 101.2,262.5 96.2,264.5 104.0,284.0 94.8,287.7 86.9,268.2 81.9,270.3" fill="#ffff00" stroke="#3c3c00" stroke-width="0.9" stroke-linejoin="miter"/>
<polygon points="92.9,248.8 109.7,262.5 104.7,264.5 112.6,284.0 103.3,287.7 95.4,268.2 90.4,270.3" fill="#ffff00" stroke="#3c3c00" stroke-width="0.9" stroke-linejoin="miter"/>
<polygon points="101.5,248.8 118.2,262.5 113.2,264.5 121.1,284.0 111.8,287.7 104.0,268.2 99.0,270.3" fill="#ffff00" stroke="#3c3c00" stroke-width="0.9" stroke-linejoin="miter"/>
<polygon points="58.5,267.1 75.5,280.5 70.5,282.6 78.7,302.0 69.5,305.9 61.3,286.5 56.3,288.6" fill="#ffff00" stroke="#3c3c00" stroke-width="0.9" stroke-linejoin="miter"/>
<polygon points="110.7,238.7 126.9,253.0 121.9,254.9 129.0,274.6 119.7,278.0 112.5,258.3 107.4,260.1" fill="#ffff00" stroke="#3c3c00" stroke-width="0.9" stroke-linejoin="miter"/>
<polygon points="126.0,218.9 136.4,237.9 131.0,237.9 131.0,258.9 121.0,258.9 121.0,237.9 115.6,237.9" fill="#00ff00" stroke="#003c00" stroke-width="0.9" stroke-linejoin="miter"/>
<polygon points="134.6,218.9 145.0,237.9 139.6,237.9 139.6,258.9 129.6,258.9 129.6,237.9 124.2,237.9" fill="#00ff00" stroke="#003c00" stroke-width="0.9" stroke-linejoin="miter"/>
<polygon points="143.1,209.4 153.5,228.4 148.1,228.4 148.1,249.4 138.1,249.4 138.1,228.4 132.7,228.4" fill="#00ff00" stroke="#003c00" stroke-width="0.9" stroke-linejoin="miter"/>
<polygon points="151.6,199.5 162.0,218.5 156.6,218.5 156.6,239.5 146.6,239.5 146.6,218.5 141.2,218.5" fill="#00ff00" stroke="#003c00" stroke-width="0.9" stroke-linejoin="miter"/>
<polygon points="160.2,199.5 170.6,218.5 165.2,218.5 165.2,239.5 155.2,239.5 155.2,218.5 149.8,218.5" fill="#00ff00" stroke="#003c00" stroke-width="0.9" stroke-linejoin="miter"/>
<polygon points="168.7,190.3 179.1,209.3 173.7,209.3 173.7,230.3 163.7,230.3 163.7,209.3 158.3,209.3" fill="#00ff00" stroke="#003c00" stroke-width="0.9" stroke-linejoin="miter"/>
<polygon points="170.7,190.6 186.8,205.2 181.7,206.9 188.5,226.8 179.0,230.0 172.2,210.2 167.1,211.9" fill="#00ff00" stroke="#003c00" stroke-width="0.9" stroke-linejoin="miter"/>
<polygon points="178.3,191.6 195.1,205.3 190.1,207.3 197.9,226.8 188.6,230.5 180.8,211.0 175.8,213.1" fill="#00ff00" stroke="#003c00" stroke-width="0.9" stroke-linejoin="miter"/>
<polygon points="186.3,191.6 203.5,204.8 198.5,207.0 206.9,226.2 197.8,230.2 189.3,211.0 184.4,213.1" fill="#00ff00" stroke="#003c00" stroke-width="0.9" stroke-linejoin="miter"/>
<polygon points="195.7,200.7 212.2,214.7 207.2,216.7 214.7,236.3 205.4,239.9 197.8,220.3 192.8,222.2" fill="#00ff00" stroke="#003c00" stroke-width="0.9" stroke-linejoin="miter"/>
<polygon points="203.6,210.8 220.6,224.2 215.6,226.3 223.8,245.7 214.6,249.6 206.4,230.2 201.4,232.3" fill="#00ff00" stroke="#003c00" stroke-width="0.9" stroke-linejoin="miter"/>
<polygon points="205.8,235.0 226.6,241.2 222.8,245.0 237.6,259.9 230.5,266.9 215.7,252.0 211.8,255.8" fill="#ffff00" stroke="#3c3c00" stroke-width="0.9" stroke-linejoin="miter"/>
<polygon points="215.0,253.6 235.5,260.5 231.5,264.2 245.7,279.7 238.3,286.4 224.1,270.9 220.1,274.6" fill="#ffff00" stroke="#3c3c00" stroke-width="0.9" stroke-linejoin="miter"/>
<polygon points="223.2,253.6 243.8,260.2 239.9,263.9 254.4,279.1 247.2,286.0 232.7,270.8 228.8,274.5" fill="#ffff00" stroke="#3c3c00" stroke-width="0.9" stroke-linejoin="miter"/>
<polygon points="232.4,262.8 252.7,270.3 248.7,273.9 262.4,289.7 254.9,296.3 241.1,280.4 237.0,284.0" fill="#ffff00" stroke="#3c3c00" stroke-width="0.9" stroke-linejoin="miter"/>
<polygon points="241.2,281.4 261.4,289.2 257.3,292.7 270.8,308.8 263.1,315.2 249.6,299.1 245.5,302.6" fill="#ffff00" stroke="#3c3c00" stroke-width="0.9" stroke-linejoin="miter"/>
<polygon points="249.7,281.4 269.9,289.2 265.8,292.7 279.3,308.8 271.6,315.2 258.1,299.1 254.0,302.6" fill="#ffff00" stroke="#3c3c00" stroke-width="0.9" stroke-linejoin="miter"/>
<polygon points="258.0,290.6 278.3,298.1 274.3,301.7 288.0,317.5 280.5,324.1 266.7,308.2 262.6,311.8" fill="#ff0000" stroke="#400000" stroke-width="0.9" stroke-linejoin="miter"/>
<polygon points="266.6,281.5 286.9,289.0 282.8,292.6 296.6,308.4 289.0,315.0 275.2,299.1 271.2,302.7" fill="#ffff00" stroke="#3c3c00" stroke-width="0.9" stroke-linejoin="miter"/>
<polygon points="274.4,243.3 295.1,249.9 291.1,253.6 305.6,268.8 298.4,275.7 283.9,260.5 280.0,264.2" fill="#ffff00" stroke="#3c3c00" stroke-width="0.9" stroke-linejoin="miter"/>
<polygon points="283.2,234.7 303.7,241.6 299.8,245.3 313.9,260.8 306.6,267.5 292.4,252.0 288.4,255.7" fill="#ffff00" stroke="#3c3c00" stroke-width="0.9" stroke-linejoin="miter"/>
<polygon points="291.3,224.3 312.0,230.6 308.2,234.4 322.8,249.4 315.7,256.4 301.0,241.4 297.1,245.2" fill="#00ff00" stroke="#003c00" stroke-width="0.9" stroke-linejoin="miter"/>
<polygon points="299.9,224.8 320.6,231.3 316.7,235.0 331.3,250.1 324.1,257.1 309.5,242.0 305.6,245.7" fill="#00ff00" stroke="#003c00" stroke-width="0.9" stroke-linejoin="miter"/>
<polygon points="308.7,244.0 329.3,250.8 325.3,254.5 339.6,269.8 332.3,276.6 318.0,261.3 314.1,265.0" fill="#ffff00" stroke="#3c3c00" stroke-width="0.9" stroke-linejoin="miter"/>
<polygon points="312.8,259.0 334.4,257.7 332.1,262.5 351.1,271.4 346.9,280.5 327.9,271.6 325.6,276.5" fill="#ffff00" stroke="#3c3c00" stroke-width="0.9" stroke-linejoin="miter"/>
<polygon points="321.0,288.0 342.6,285.8 340.5,290.8 359.8,299.0 355.9,308.2 336.5,300.0 334.4,305.0" fill="#ffff00" stroke="#3c3c00" stroke-width="0.9" stroke-linejoin="miter"/>
<polygon points="329.5,306.7 351.1,304.5 349.0,309.5 368.3,317.7 364.4,326.9 345.1,318.7 343.0,323.7" fill="#ff0000" stroke="#400000" stroke-width="0.9" stroke-linejoin="miter"/>
<polygon points="336.5,332.5 356.0,323.1 355.8,328.5 376.7,329.6 376.2,339.5 355.2,338.4 354.9,343.8" fill="#ff0000" stroke="#400000" stroke-width="0.9" stroke-linejoin="miter"/>
<polygon points="346.6,349.2 360.1,332.3 362.2,337.3 381.6,329.2 385.4,338.4 366.0,346.5 368.1,351.5" fill="#ff0000" stroke="#400000" stroke-width="0.9" stroke-linejoin="miter"/>
<polygon points="354.8,338.9 369.1,322.7 370.9,327.7 390.6,320.6 394.1,330.0 374.3,337.1 376.2,342.2" fill="#ff0000" stroke="#400000" stroke-width="0.9" stroke-linejoin="miter"/>
<polygon points="363.3,329.4 377.6,313.2 379.4,318.2 399.2,311.1 402.6,320.5 382.9,327.6 384.7,332.7" fill="#ff0000" stroke="#400000" stroke-width="0.9" stroke-linejoin="miter"/>
<polygon points="376.5,337.7 382.6,317.0 386.4,320.8 401.2,305.9 408.3,313.0 393.5,327.8 397.3,331.7" fill="#ff0000" stroke="#400000" stroke-width="0.9" stroke-linejoin="miter"/>
<polygon points="391.7,332.6 389.1,311.1 394.2,313.2 402.0,293.7 411.3,297.4 403.4,316.9 408.4,318.9" fill="#ff0000" stroke="#400000" stroke-width="0.9" stroke-linejoin="miter"/>
<polygon points="407.7,352.7 397.3,333.7 402.7,333.7 402.7,312.7 412.7,312.7 412.7,333.7 418.1,333.7" fill="#ff0000" stroke="#400000" stroke-width="0.9" stroke-linejoin="miter"/>
<polygon points="430.9,355.4 409.9,350.1 413.6,346.1 398.2,331.8 405.0,324.5 420.4,338.8 424.1,334.9" fill="#ff0000" stroke="#400000" stroke-width="0.9" stroke-linejoin="miter"/>
<polygon points="442.7,331.2 430.2,348.9 427.9,344.1 409.0,353.3 404.6,344.3 423.5,335.1 421.1,330.2" fill="#ff0000" stroke="#400000" stroke-width="0.9" stroke-linejoin="miter"/>
<polygon points="451.3,330.9 438.8,348.6 436.4,343.8 417.5,353.0 413.1,344.0 432.0,334.8 429.6,329.9" fill="#ff0000" stroke="#400000" stroke-width="0.9" stroke-linejoin="miter"/>
<polygon points="459.8,331.6 447.3,349.3 444.9,344.5 426.1,353.7 421.7,344.7 440.5,335.5 438.2,330.6" fill="#ff0000" stroke="#400000" stroke-width="0.9" stroke-linejoin="miter"/>
<polygon points="450.4,323.0 460.8,342.0 455.4,342.0 455.4,363.0 445.4,363.0 445.4,342.0 440.0,342.0" fill="#ff0000" stroke="#400000" stroke-width="0.9" stroke-linejoin="miter"/>
<polygon points="439.8,325.2 461.0,320.8 459.4,325.9 479.5,332.1 476.6,341.6 456.5,335.5 454.9,340.7" fill="#ff0000" stroke="#400000" stroke-width="0.9" stroke-linejoin="miter"/>
<polygon points="448.4,313.5 467.4,303.1 467.4,308.5 488.4,308.5 488.4,318.5 467.4,318.5 467.4,323.9" fill="#ff0000" stroke="#400000" stroke-width="0.9" stroke-linejoin="miter"/>
<polygon points="457.0,300.5 471.7,284.7 473.4,289.8 493.4,283.1 496.5,292.6 476.6,299.3 478.3,304.4" fill="#ffff00" stroke="#3c3c00" stroke-width="0.9" stroke-linejoin="miter"/>
<polygon points="471.7,280.7 475.9,259.5 480.0,263.0 493.5,246.9 501.2,253.3 487.7,269.4 491.8,272.9" fill="#ffff00" stroke="#3c3c00" stroke-width="0.9" stroke-linejoin="miter"/>
<polygon points="479.9,270.4 484.5,249.2 488.6,252.8 502.4,236.9 509.9,243.5 496.2,259.3 500.2,262.9" fill="#ffff00" stroke="#3c3c00" stroke-width="0.9" stroke-linejoin="miter"/>
<polygon points="487.7,272.2 493.4,251.3 497.3,255.0 511.9,239.9 519.1,246.9 504.5,262.0 508.4,265.7" fill="#ffff00" stroke="#3c3c00" stroke-width="0.9" stroke-linejoin="miter"/>
<polygon points="503.3,284.2 500.0,262.8 505.1,264.6 512.3,244.9 521.7,248.3 514.5,268.0 519.6,269.9" fill="#ffff00" stroke="#3c3c00" stroke-width="0.9" stroke-linejoin="miter"/>
<polygon points="511.5,303.5 508.6,282.0 513.6,283.9 521.2,264.3 530.5,267.9 523.0,287.5 528.0,289.5" fill="#ffff00" stroke="#3c3c00" stroke-width="0.9" stroke-linejoin="miter"/>
<polygon points="567.4,308.0 546.4,302.6 550.1,298.6 534.8,284.2 541.7,276.9 557.0,291.3 560.7,287.4" fill="#ffff00" stroke="#3c3c00" stroke-width="0.9" stroke-linejoin="miter"/>
<polygon points="526.5,323.7 516.8,304.3 522.2,304.5 522.9,283.5 532.9,283.9 532.2,304.9 537.5,305.1" fill="#ff0000" stroke="#400000" stroke-width="0.9" stroke-linejoin="miter"/>
<polygon points="535.7,323.7 525.3,304.7 530.7,304.7 530.7,283.7 540.7,283.7 540.7,304.7 546.1,304.7" fill="#ff0000" stroke="#400000" stroke-width="0.9" stroke-linejoin="miter"/>
<polygon points="551.4,321.7 534.9,307.7 540.0,305.7 532.4,286.1 541.8,282.5 549.3,302.1 554.3,300.2" fill="#ff0000" stroke="#400000" stroke-width="0.9" stroke-linejoin="miter"/>
<polygon points="580.1,292.2 558.6,295.3 560.5,290.2 540.8,282.8 544.4,273.5 564.0,280.9 565.9,275.8" fill="#ffff00" stroke="#3c3c00" stroke-width="0.9" stroke-linejoin="miter"/>
<polygon points="589.9,266.4 570.9,276.8 570.9,271.4 549.9,271.4 549.9,261.4 570.9,261.4 570.9,256.0" fill="#ffff00" stroke="#3c3c00" stroke-width="0.9" stroke-linejoin="miter"/>
<polygon points="592.5,234.3 586.5,255.0 582.6,251.2 567.8,266.1 560.7,259.0 575.6,244.2 571.8,240.3" fill="#ffff00" stroke="#3c3c00" stroke-width="0.9" stroke-linejoin="miter"/>
<polygon points="586.9,248.2 597.3,267.2 591.9,267.2 591.9,288.2 581.9,288.2 581.9,267.2 576.5,267.2" fill="#ffff00" stroke="#3c3c00" stroke-width="0.9" stroke-linejoin="miter"/>
<polygon points="588.6,268.4 604.9,282.7 599.8,284.6 607.0,304.3 597.6,307.7 590.4,288.0 585.4,289.8" fill="#ffff00" stroke="#3c3c00" stroke-width="0.9" stroke-linejoin="miter"/>
<polygon points="591.8,282.8 611.6,291.5 607.4,294.8 620.2,311.4 612.2,317.5 599.4,300.9 595.2,304.2" fill="#ffff00" stroke="#3c3c00" stroke-width="0.9" stroke-linejoin="miter"/>
<polygon points="600.3,282.0 620.2,290.7 615.9,294.0 628.7,310.6 620.8,316.7 608.0,300.1 603.7,303.4" fill="#ffff00" stroke="#3c3c00" stroke-width="0.9" stroke-linejoin="miter"/>
<polygon points="607.7,282.9 628.1,290.1 624.1,293.7 638.2,309.3 630.7,316.0 616.7,300.4 612.7,304.0" fill="#ffff00" stroke="#3c3c00" stroke-width="0.9" stroke-linejoin="miter"/>
<polygon points="616.0,290.8 636.5,297.6 632.6,301.3 646.9,316.6 639.6,323.4 625.3,308.1 621.3,311.8" fill="#ff0000" stroke="#400000" stroke-width="0.9" stroke-linejoin="miter"/>
<polygon points="625.5,301.1 645.5,309.2 641.4,312.7 654.7,328.9 647.0,335.2 633.6,319.0 629.5,322.4" fill="#ff0000" stroke="#400000" stroke-width="0.9" stroke-linejoin="miter"/>
<polygon points="634.1,300.6 654.1,308.8 649.9,312.2 663.2,328.5 655.4,334.8 642.2,318.5 638.0,321.9" fill="#ff0000" stroke="#400000" stroke-width="0.9" stroke-linejoin="miter"/>
<polygon points="642.0,300.3 662.4,307.7 658.3,311.2 672.2,327.0 664.7,333.6 650.8,317.8 646.7,321.4" fill="#ff0000" stroke="#400000" stroke-width="0.9" stroke-linejoin="miter"/>
<polygon points="650.7,310.0 671.0,317.7 666.9,321.2 680.6,337.1 673.0,343.6 659.3,327.7 655.2,331.2" fill="#ff0000" stroke="#400000" stroke-width="0.9" stroke-linejoin="miter"/>
<polygon points="664.2,295.5 681.4,308.7 676.4,310.9 685.0,330.0 675.9,334.1 667.3,314.9 662.4,317.1" fill="#ff0000" stroke="#400000" stroke-width="0.9" stroke-linejoin="miter"/>
<polygon points="687.7,285.2 690.9,306.6 685.9,304.8 678.7,324.5 669.3,321.1 676.5,301.4 671.4,299.5" fill="#ff0000" stroke="#400000" stroke-width="0.9" stroke-linejoin="miter"/>
<polygon points="696.9,265.6 699.4,287.1 694.4,285.1 686.4,304.5 677.1,300.7 685.1,281.3 680.1,279.2" fill="#ffff00" stroke="#3c3c00" stroke-width="0.9" stroke-linejoin="miter"/>
<polygon points="705.4,256.2 707.9,277.7 702.9,275.6 695.0,295.1 685.8,291.4 693.6,271.9 688.6,269.9" fill="#ffff00" stroke="#3c3c00" stroke-width="0.9" stroke-linejoin="miter"/>
<polygon points="706.4,256.1 716.8,275.1 711.4,275.1 711.4,296.1 701.4,296.1 701.4,275.1 696.0,275.1" fill="#ffff00" stroke="#3c3c00" stroke-width="0.9" stroke-linejoin="miter"/>
<polygon points="715.0,265.5 725.4,284.5 720.0,284.5 720.0,305.5 710.0,305.5 710.0,284.5 704.6,284.5" fill="#ffff00" stroke="#3c3c00" stroke-width="0.9" stroke-linejoin="miter"/>
<polygon points="716.0,276.6 732.8,290.3 727.8,292.3 735.6,311.8 726.4,315.5 718.5,296.0 713.5,298.1" fill="#ffff00" stroke="#3c3c00" stroke-width="0.9" stroke-linejoin="miter"/>
<polygon points="718.6,300.4 739.1,307.6 735.1,311.2 749.1,326.8 741.7,333.5 727.6,317.9 723.6,321.5" fill="#ff0000" stroke="#400000" stroke-width="0.9" stroke-linejoin="miter"/>
<polygon points="727.3,309.5 747.7,316.7 743.6,320.3 757.6,336.0 750.1,342.7 736.2,327.0 732.1,330.6" fill="#ff0000" stroke="#400000" stroke-width="0.9" stroke-linejoin="miter"/>
<polygon points="730.3,334.5 751.7,331.2 749.9,336.3 769.6,343.4 766.2,352.8 746.5,345.7 744.6,350.7" fill="#ff0000" stroke="#400000" stroke-width="0.9" stroke-linejoin="miter"/>
<polygon points="739.4,333.9 761.0,332.3 758.8,337.2 777.9,345.9 773.8,355.0 754.7,346.3 752.4,351.2" fill="#ff0000" stroke="#400000" stroke-width="0.9" stroke-linejoin="miter"/>
<polygon points="746.2,350.3 765.5,340.6 765.3,346.0 786.3,346.7 786.0,356.7 765.0,356.0 764.8,361.4" fill="#ff0000" stroke="#400000" stroke-width="0.9" stroke-linejoin="miter"/>
<polygon points="757.2,368.7 768.8,350.4 771.4,355.1 789.8,344.9 794.6,353.7 776.3,363.9 778.9,368.6" fill="#ff0000" stroke="#400000" stroke-width="0.9" stroke-linejoin="miter"/>
<polygon points="765.4,369.0 777.6,351.1 780.1,355.9 798.8,346.4 803.3,355.3 784.6,364.8 787.1,369.6" fill="#ff0000" stroke="#400000" stroke-width="0.9" stroke-linejoin="miter"/>
<polygon points="773.8,369.3 786.3,351.6 788.7,356.4 807.6,347.2 811.9,356.2 793.1,365.4 795.4,370.3" fill="#ff0000" stroke="#400000" stroke-width="0.9" stroke-linejoin="miter"/>
<polygon points="803.8,369.7 790.2,352.8 795.6,351.9 791.9,331.2 801.8,329.4 805.4,350.1 810.7,349.2" fill="#ff0000" stroke="#400000" stroke-width="0.9" stroke-linejoin="miter"/>
<polygon points="822.2,363.9 801.8,356.7 805.8,353.1 791.7,337.5 799.2,330.8 813.2,346.4 817.2,342.8" fill="#ff0000" stroke="#400000" stroke-width="0.9" stroke-linejoin="miter"/>
<polygon points="836.7,348.2 815.7,353.3 817.1,348.1 796.8,342.7 799.4,333.0 819.6,338.4 821.0,333.2" fill="#ff0000" stroke="#400000" stroke-width="0.9" stroke-linejoin="miter"/>
<polygon points="845.9,332.0 826.9,342.4 826.9,337.0 805.9,337.0 805.9,327.0 826.9,327.0 826.9,321.6" fill="#ff0000" stroke="#400000" stroke-width="0.9" stroke-linejoin="miter"/>
<polygon points="849.7,319.0 842.0,339.3 838.5,335.2 822.5,348.8 816.0,341.2 832.0,327.5 828.5,323.4" fill="#ff0000" stroke="#400000" stroke-width="0.9" stroke-linejoin="miter"/>
<polygon points="861.7,315.2 847.6,331.8 845.7,326.7 826.1,334.2 822.5,324.9 842.1,317.4 840.2,312.3" fill="#ff0000" stroke="#400000" stroke-width="0.9" stroke-linejoin="miter"/>
<polygon points="865.2,309.1 859.8,330.1 855.9,326.4 841.5,341.7 834.2,334.9 848.5,319.6 844.6,315.9" fill="#ff0000" stroke="#400000" stroke-width="0.9" stroke-linejoin="miter"/>
<polygon points="851.6,314.8 869.1,327.6 864.2,329.9 873.0,348.9 864.0,353.1 855.1,334.1 850.2,336.4" fill="#ff0000" stroke="#400000" stroke-width="0.9" stroke-linejoin="miter"/>
<polygon points="850.5,324.5 872.1,323.2 869.8,328.0 888.8,336.9 884.6,346.0 865.6,337.1 863.3,342.0" fill="#ff0000" stroke="#400000" stroke-width="0.9" stroke-linejoin="miter"/>
<polygon points="857.1,323.0 876.1,312.6 876.1,318.0 897.1,318.0 897.1,328.0 876.1,328.0 876.1,333.4" fill="#ff0000" stroke="#400000" stroke-width="0.9" stroke-linejoin="miter"/>
<polygon points="865.7,323.4 884.7,313.0 884.7,318.4 905.7,318.4 905.7,328.4 884.7,328.4 884.7,333.8" fill="#ff0000" stroke="#400000" stroke-width="0.9" stroke-linejoin="miter"/>
<polygon points="875.4,318.7 889.7,302.5 891.5,307.5 911.3,300.4 914.7,309.8 895.0,316.9 896.8,322.0" fill="#ff0000" stroke="#400000" stroke-width="0.9" stroke-linejoin="miter"/>
<polygon points="888.6,335.5 894.7,314.8 898.5,318.6 913.3,303.7 920.4,310.8 905.6,325.6 909.4,329.5" fill="#ff0000" stroke="#400000" stroke-width="0.9" stroke-linejoin="miter"/>
<polygon points="897.1,336.8 903.2,316.1 907.0,319.9 921.9,305.0 928.9,312.1 914.1,326.9 917.9,330.8" fill="#ff0000" stroke="#400000" stroke-width="0.9" stroke-linejoin="miter"/>
<polygon points="905.7,306.9 911.7,286.2 915.6,290.0 930.4,275.1 937.5,282.2 922.6,297.0 926.4,300.9" fill="#ffff00" stroke="#3c3c00" stroke-width="0.9" stroke-linejoin="miter"/>
<polygon points="928.3,265.7 938.7,284.7 933.3,284.7 933.3,305.7 923.3,305.7 923.3,284.7 917.9,284.7" fill="#ffff00" stroke="#3c3c00" stroke-width="0.9" stroke-linejoin="miter"/>
<polygon points="953.0,267.9 943.8,287.5 940.6,283.1 923.7,295.5 917.8,287.5 934.7,275.1 931.5,270.7" fill="#ffff00" stroke="#3c3c00" stroke-width="0.9" stroke-linejoin="miter"/>
<polygon points="960.7,264.2 952.9,284.4 949.4,280.3 933.3,293.8 926.9,286.1 943.0,272.6 939.5,268.5" fill="#ffff00" stroke="#3c3c00" stroke-width="0.9" stroke-linejoin="miter"/>
<polygon points="968.1,262.4 962.0,283.1 958.2,279.3 943.3,294.2 936.3,287.1 951.1,272.3 947.3,268.4" fill="#ffff00" stroke="#3c3c00" stroke-width="0.9" stroke-linejoin="miter"/>
<polygon points="968.5,236.8 973.3,257.9 968.1,256.4 962.3,276.6 952.7,273.8 958.5,253.7 953.3,252.2" fill="#ffff00" stroke="#3c3c00" stroke-width="0.9" stroke-linejoin="miter"/>
<polygon points="975.0,236.8 979.8,257.9 974.6,256.4 968.8,276.6 959.2,273.8 965.0,253.7 959.8,252.2" fill="#ffff00" stroke="#3c3c00" stroke-width="0.9" stroke-linejoin="miter"/>
<polygon points="979.5,218.1 989.9,237.1 984.5,237.1 984.5,258.1 974.5,258.1 974.5,237.1 969.1,237.1" fill="#00ff00" stroke="#003c00" stroke-width="0.9" stroke-linejoin="miter"/>
<polygon points="988.1,237.7 998.5,256.7 993.1,256.7 993.1,277.7 983.1,277.7 983.1,256.7 977.7,256.7" fill="#ffff00" stroke="#3c3c00" stroke-width="0.9" stroke-linejoin="miter"/>
<polygon points="989.8,238.1 1006.0,252.4 1001.0,254.3 1008.2,274.0 998.8,277.4 991.6,257.7 986.5,259.5" fill="#ffff00" stroke="#3c3c00" stroke-width="0.9" stroke-linejoin="miter"/>
<polygon points="998.1,257.6 1014.5,271.7 1009.5,273.6 1016.8,293.3 1007.5,296.8 1000.1,277.1 995.1,279.0" fill="#ffff00" stroke="#3c3c00" stroke-width="0.9" stroke-linejoin="miter"/>
<polygon points="1006.8,257.6 1023.1,271.9 1018.0,273.8 1025.2,293.5 1015.8,296.9 1008.6,277.2 1003.6,279.0" fill="#ffff00" stroke="#3c3c00" stroke-width="0.9" stroke-linejoin="miter"/>
<text x="51.1" y="413.1" font-size="16" text-anchor="end" fill="#000">0</text>
<text x="51.1" y="365.8" font-size="16" text-anchor="end" fill="#000">1</text>
<text x="51.1" y="318.4" font-size="16" text-anchor="end" fill="#000">2</text>
<text x="51.1" y="271.1" font-size="16" text-anchor="end" fill="#000">3</text>
<text x="51.1" y="223.8" font-size="16" text-anchor="end" fill="#000">4</text>
<text x="51.1" y="176.4" font-size="16" text-anchor="end" fill="#000">5</text>
<text x="51.1" y="129.1" font-size="16" text-anchor="end" fill="#000">6</text>
<text x="1028.2" y="413.1" font-size="16" fill="#000">0</text>
<text x="1028.2" y="365.8" font-size="16" fill="#000">5</text>
<text x="1028.2" y="318.4" font-size="16" fill="#000">10</text>
<text x="1028.2" y="271.1" font-size="16" fill="#000">15</text>
<text x="1028.2" y="223.8" font-size="16" fill="#000">20</text>
<text x="1028.2" y="176.4" font-size="16" fill="#000">25</text>
<text x="1028.2" y="129.1" font-size="16" fill="#000">30</text>
<text transform="translate(21.3,378.3) rotate(-90)" font-size="23" textLength="221.7" lengthAdjust="spacing" fill="#000">Wave Height - Metres</text>
<text transform="translate(1060,162.8) rotate(90)" font-size="22.7" textLength="202.5" lengthAdjust="spacing" fill="#000">Wind Speed - Knots</text>
<text x="83.75" y="435" font-size="16" textLength="86.25" lengthAdjust="spacing" fill="#000">Wednesday</text>
<text x="232" y="435" font-size="16" textLength="67.5" lengthAdjust="spacing" fill="#000">Thursday</text>
<text x="379.3" y="435" font-size="16" textLength="46.3" lengthAdjust="spacing" fill="#000">Friday</text>
<text x="505.2" y="435" font-size="16" font-weight="bold" textLength="69.2" lengthAdjust="spacing" fill="#000">Saturday</text>
<text x="647.4" y="435" font-size="16" font-weight="bold" textLength="57.4" lengthAdjust="spacing" fill="#000">Sunday</text>
<text x="781.2" y="435" font-size="16" textLength="58.3" lengthAdjust="spacing" fill="#000">Monday</text>
<text x="917.3" y="435" font-size="16" textLength="62.9" lengthAdjust="spacing" fill="#000">Tuesday</text>
<text x="110.8" y="458.7" font-size="17.8" textLength="37.2" lengthAdjust="spacingAndGlyphs" fill="#7c7c7c">21st</text>
<text x="245" y="458.7" font-size="17.8" textLength="42" lengthAdjust="spacingAndGlyphs" fill="#7c7c7c">22nd</text>
<text x="383" y="458.7" font-size="17.8" textLength="39.6" lengthAdjust="spacingAndGlyphs" fill="#7c7c7c">23rd</text>
<text x="520" y="458.7" font-size="17.8" textLength="38.9" lengthAdjust="spacingAndGlyphs" fill="#7c7c7c">24th</text>
<text x="657" y="458.7" font-size="17.8" textLength="38.9" lengthAdjust="spacingAndGlyphs" fill="#7c7c7c">25th</text>
<text x="792.5" y="458.7" font-size="17.8" textLength="38.9" lengthAdjust="spacingAndGlyphs" fill="#7c7c7c">26th</text>
<text x="929.9" y="458.7" font-size="17.8" textLength="38.9" lengthAdjust="spacingAndGlyphs" fill="#7c7c7c">27th</text>
</svg></body></html>
